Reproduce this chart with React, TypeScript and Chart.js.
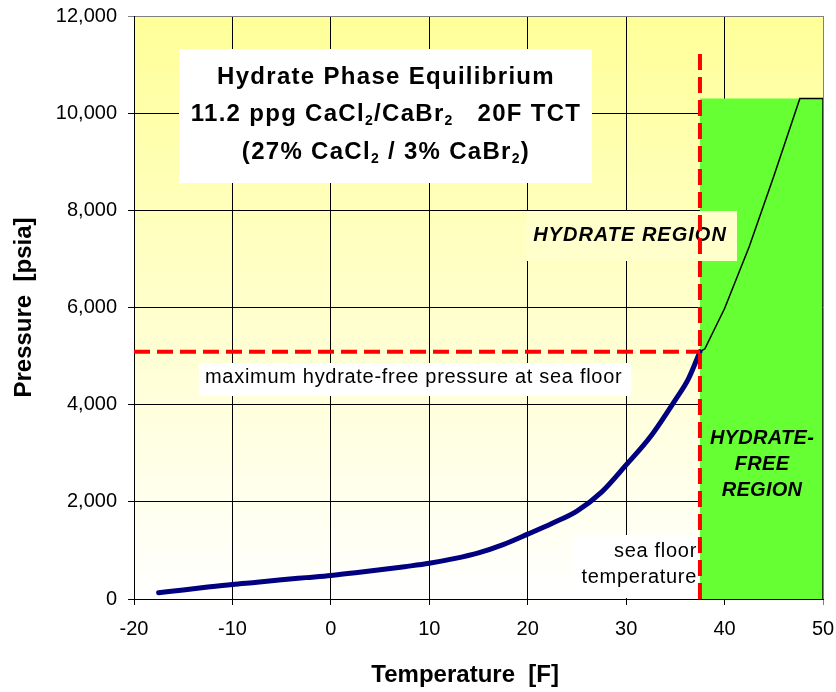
import React, { useEffect, useRef } from "react";
import { Chart, registerables } from "chart.js";

Chart.register(...registerables);

const FONT = "'Liberation Sans', Arial, Helvetica, sans-serif";

// ---- data ----
const tempMin = -20;
const tempMax = 50;
const tempStep = 10;
const pressureMin = 0;
const pressureMax = 12000;
const pressureStep = 2000;

// hydrate equilibrium curve below sea floor temperature (thick navy)
const hydrateTemps = [-17.5, -15, -12.5, -10, -7.5, -5, -2.5, 0, 2.5, 5, 7.5, 10, 12.5, 15, 17.5, 20, 22.5, 25, 27.5, 30, 32.5, 35, 36.3, 37.5];
const hydratePressures = [130, 185, 245, 300, 345, 395, 440, 485, 540, 600, 665, 735, 830, 950, 1120, 1335, 1560, 1810, 2200, 2760, 3350, 4100, 4520, 5090];

// continuation of the curve inside the hydrate-free region (thin black)
const freeTemps = [37.5, 38.0, 40, 42.5, 45, 47.65, 50, 50];
const freePressures = [5090, 5150, 5980, 7250, 8700, 10300, 10300, 0];

// hydrate-free region (green)
const regionTemps = [37.5, 50];
const regionPressures = [10300, 10300];

// reference lines
const seaFloorTemp = 37.5;
const maxHydrateFreePressure = 5090;
const seaFloorLineTop = 11350;

type Seg = [string, boolean?];

const titleLines: Seg[][] = [
  [["Hydrate Phase Equilibrium"]],
  [["11.2 ppg CaCl"], ["2", true], ["/CaBr"], ["2", true], ["   20F TCT"]],
  [["(27% CaCl"], ["2", true], [" / 3% CaBr"], ["2", true], [")"]],
];

function setFont(ctx: CanvasRenderingContext2D, size: number, weight: string, style: string) {
  ctx.font = `${style} ${weight} ${size}px ${FONT}`;
}

function richWidth(ctx: CanvasRenderingContext2D, segs: Seg[], size: number, weight: string, style: string) {
  let w = 0;
  for (const [t, sub] of segs) {
    setFont(ctx, sub ? Math.round(size * 0.6) : size, weight, style);
    w += ctx.measureText(t).width;
  }
  return w;
}

function drawRich(ctx: CanvasRenderingContext2D, segs: Seg[], cx: number, baseline: number, size: number, weight: string, style: string) {
  const w = richWidth(ctx, segs, size, weight, style);
  let x = cx - w / 2;
  ctx.textAlign = "left";
  ctx.textBaseline = "alphabetic";
  for (const [t, sub] of segs) {
    setFont(ctx, sub ? Math.round(size * 0.6) : size, weight, style);
    ctx.fillText(t, x, baseline + (sub ? size * 0.18 : 0));
    x += ctx.measureText(t).width;
  }
}

const chartPlugin = {
  id: "hydrateDecor",
  beforeDraw(chart: any) {
    const { ctx, chartArea: ca } = chart;
    const g = ctx.createLinearGradient(0, ca.top, 0, ca.bottom);
    g.addColorStop(0, "#FFFF99");
    g.addColorStop(1, "#FFFFFF");
    ctx.save();
    ctx.fillStyle = g;
    ctx.fillRect(ca.left, ca.top, ca.right - ca.left, ca.bottom - ca.top);
    ctx.restore();
  },
  afterDatasetDraw(chart: any, args: any) {
    if (chart.data.datasets[args.index].label !== "region") return;
    const ctx: CanvasRenderingContext2D = chart.ctx;
    ctx.save();
    (ctx as any).letterSpacing = "0px";

    // title box
    ctx.fillStyle = "#FFFFFF";
    ctx.fillRect(179, 49, 413, 134);
    ctx.fillStyle = "#000000";
    (ctx as any).letterSpacing = "1.3px";
    const baselines = [83.5, 120.5, 158.5];
    titleLines.forEach((segs, i) => drawRich(ctx, segs, 386, baselines[i], 24, "bold", "normal"));

    // hydrate region box
    (ctx as any).letterSpacing = "1px";
    ctx.fillStyle = "#FFFFCC";
    ctx.fillRect(526, 211, 211, 50);
    ctx.fillStyle = "#000000";
    setFont(ctx, 20, "bold", "italic");
    ctx.textAlign = "center";
    ctx.textBaseline = "alphabetic";
    ctx.fillText("HYDRATE REGION", 630, 241);

    // max pressure label
    (ctx as any).letterSpacing = "0.7px";
    ctx.fillStyle = "#FFFFFF";
    ctx.fillRect(199, 363, 432, 33);
    ctx.fillStyle = "#000000";
    setFont(ctx, 20, "normal", "normal");
    ctx.textAlign = "left";
    ctx.fillText("maximum hydrate-free pressure at sea floor", 205, 383);

    // sea floor temperature label
    ctx.fillStyle = "#FFFFFF";
    ctx.fillRect(573, 535, 126, 63);
    ctx.fillStyle = "#000000";
    ctx.textAlign = "right";
    ctx.fillText("sea floor", 697, 557);
    ctx.fillText("temperature", 697, 583);

    // hydrate-free region label
    (ctx as any).letterSpacing = "0.3px";
    setFont(ctx, 20, "bold", "italic");
    ctx.textAlign = "center";
    ctx.fillText("HYDRATE-", 762, 443.5);
    ctx.fillText("FREE", 762, 469.5);
    ctx.fillText("REGION", 762, 495.5);
    ctx.restore();
  },
};

export default function App() {
  const ref = useRef<HTMLCanvasElement | null>(null);

  useEffect(() => {
    if (!ref.current) return;
    const pts = (xs: number[], ys: number[]) => xs.map((x, i) => ({ x, y: ys[i] }));
    const chart = new Chart(ref.current, {
      type: "line",
      data: {
        datasets: [
          {
            label: "region",
            data: pts(regionTemps, regionPressures),
            borderWidth: 0,
            borderColor: "rgba(0,0,0,0)",
            backgroundColor: "#66FF33",
            fill: "origin",
            pointRadius: 0,
            order: 10,
          },
          {
            label: "free",
            data: pts(freeTemps, freePressures),
            borderColor: "#000000",
            borderWidth: 1.5,
            fill: false,
            pointRadius: 0,
            tension: 0,
            order: 4,
          },
          {
            label: "hydrate",
            data: pts(hydrateTemps, hydratePressures),
            borderColor: "#000080",
            borderWidth: 5,
            borderCapStyle: "round",
            borderJoinStyle: "round",
            cubicInterpolationMode: "monotone",
            fill: false,
            pointRadius: 0,
            order: 3,
          },
          {
            label: "maxPressure",
            data: pts([tempMin, seaFloorTemp], [maxHydrateFreePressure, maxHydrateFreePressure]),
            borderColor: "#FF0000",
            borderWidth: 4,
            borderDash: [16, 7],
            fill: false,
            pointRadius: 0,
            order: 2,
          },
          {
            label: "seaFloor",
            data: pts([seaFloorTemp, seaFloorTemp], [pressureMin, seaFloorLineTop]),
            borderColor: "#FF0000",
            borderWidth: 4,
            borderDash: [16, 7],
            fill: false,
            pointRadius: 0,
            order: 1,
          },
        ],
      },
      options: {
        animation: false,
        responsive: false,
        devicePixelRatio: 1,
        layout: { padding: { left: 0, right: 13, top: 16, bottom: 0 } },
        plugins: { legend: { display: false }, tooltip: { enabled: false } },
        scales: {
          x: {
            type: "linear",
            min: tempMin,
            max: tempMax,
            afterFit: (s: any) => {
              s.height = 93;
              s.paddingLeft = 0;
              s.paddingRight = 0;
            },
            ticks: {
              stepSize: tempStep,
              color: "#000000",
              padding: 12,
              font: { family: FONT, size: 20 },
            },
            grid: {
              color: (c: any) => (c.tick && c.tick.value === tempMax ? "#808080" : "#000000"),
              lineWidth: 1,
              tickLength: 6,
            },
            border: { color: "#000000", width: 1 },
            title: {
              display: true,
              text: "Temperature  [F]    ",
              color: "#000000",
              font: { family: FONT, size: 24, weight: "bold" },
              padding: { top: 0, bottom: 2 },
            },
          },
          y: {
            type: "linear",
            min: pressureMin,
            max: pressureMax,
            afterFit: (s: any) => {
              s.width = 134;
              s.paddingTop = 0;
              s.paddingBottom = 0;
            },
            ticks: {
              stepSize: pressureStep,
              color: "#000000",
              padding: 11,
              font: { family: FONT, size: 20 },
              callback: (v: any) => Number(v).toLocaleString("en-US"),
            },
            grid: {
              color: (c: any) => (c.tick && c.tick.value === pressureMax ? "#808080" : "#000000"),
              lineWidth: 1,
              tickLength: 6,
            },
            border: { color: "#000000", width: 1 },
            title: {
              display: true,
              text: "Pressure  [psia]",
              color: "#000000",
              font: { family: FONT, size: 24, weight: "bold" },
              padding: { top: 10, bottom: 0 },
            },
          },
        },
      },
      plugins: [chartPlugin],
    } as any);
    return () => chart.destroy();
  }, []);

  return (
    <div style={{ position: "absolute", left: 0, top: 0, width: 836, height: 692, background: "#FFFFFF" }}>
      <canvas ref={ref} width={836} height={692} style={{ display: "block" }} />
    </div>
  );
}
